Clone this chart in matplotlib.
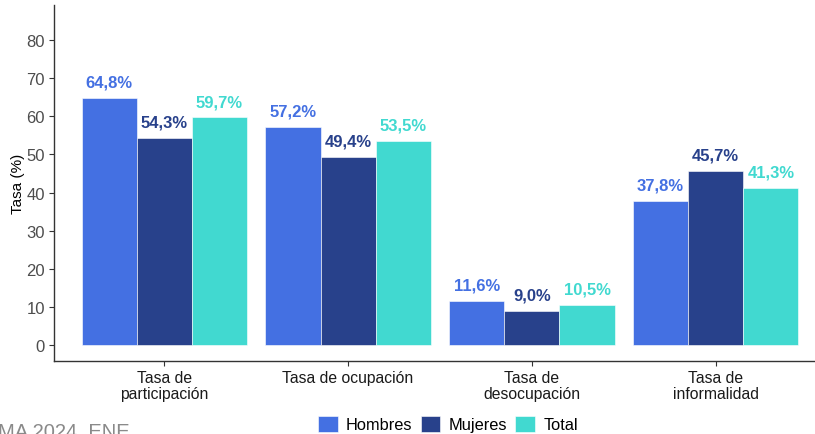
import matplotlib
matplotlib.use("Agg")
import matplotlib.pyplot as plt
import numpy as np

plt.rcParams['font.family'] = ['Liberation Sans', 'DejaVu Sans']

categories = ["Tasa de\nparticipación", "Tasa de ocupación", "Tasa de\ndesocupación", "Tasa de\ninformalidad"]
series_names = ["Hombres", "Mujeres", "Total"]
hombres = [64.8, 57.2, 11.6, 37.8]
mujeres = [54.3, 49.4, 9.0, 45.7]
total = [59.7, 53.5, 10.5, 41.3]
colors = ["#4470E2", "#28418B", "#41D9D0"]
yticks = [0, 10, 20, 30, 40, 50, 60, 70, 80]

fig = plt.figure(figsize=(8.15, 4.35), dpi=100)
W, H = 815, 435
left, right, top, bottom = 54, 826, 6, 362
ax = fig.add_axes([left / W, 1 - bottom / H, (right - left) / W, (bottom - top) / H])

x = np.arange(1, len(categories) + 1)
bw = 0.3
for i, (vals, name, c) in enumerate(zip([hombres, mujeres, total], series_names, colors)):
    pos = x + (i - 1) * bw
    ax.bar(pos, vals, width=bw, color=c, label=name, edgecolor="#ffffff", linewidth=0.4)
    for p, v in zip(pos, vals):
        ax.annotate(f"{v:.1f}%".replace(".", ","), (p, v), xytext=(0, 6), textcoords="offset points",
                    ha="center", va="bottom", color=c, fontsize=12, fontweight="bold")

ax.set_xlim(0.4, 4.6)
ax.set_ylim(-4.2, 89.2)
ax.set_xticks(x)
ax.set_xticklabels(categories, fontsize=11.3, color="#1a1a1a", linespacing=1.05)
ax.set_yticks(yticks)
ax.set_yticklabels([str(t) for t in yticks], fontsize=12, color="#4d4d4d")
ax.set_ylabel("Tasa (%)", fontsize=11, color="#000000")
ax.yaxis.set_label_coords(-0.037, 0.5)
for s in ["top", "right"]:
    ax.spines[s].set_visible(False)
for s in ["left", "bottom"]:
    ax.spines[s].set_color("#333333")
    ax.spines[s].set_linewidth(1.0)
ax.tick_params(axis="both", length=3.5, width=0.8, color="#333333", pad=3)

leg = fig.legend(loc="center", bbox_to_anchor=(448 / W, 1 - 425 / H), ncol=3, frameon=False,
                 fontsize=11.8, handlelength=1.2, handleheight=1.2, handletextpad=0.5,
                 columnspacing=0.5)

fig.text(-0.002, -3 / H, "MA 2024, ENE.", fontsize=14.5, color="#8a8a8a", ha="left", va="baseline")

fig.savefig("out.png", dpi=100)
